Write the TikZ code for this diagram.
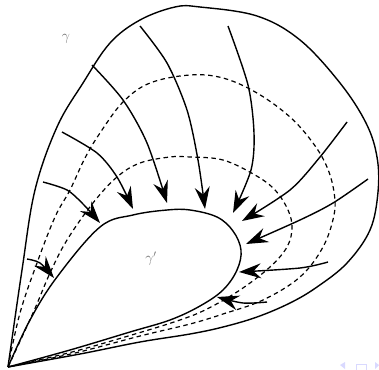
\documentclass[tikz,border=0pt]{standalone}
\usetikzlibrary{arrows.meta}
\begin{document}
\begin{tikzpicture}[x=1pt,y=-1pt,
  curve/.style={line width=1.4pt,line join=round},
  dcurve/.style={line width=1.2pt,dash pattern=on 4.5pt off 3.5pt},
  flow/.style={line width=1.4pt,-{Stealth[length=22pt,width=15pt,inset=7.5pt]}},
  lab/.style={text=black!55,font=\fontsize{14}{16}\selectfont},
  nav/.style={fill=blue!15,draw=none}]
\useasboundingbox (0,0) rectangle (379,369);
% outer curve gamma
\draw[curve] plot[smooth,tension=0.6] coordinates {(8,367) (22,270) (35,190) (57,127) (83,83) (110,43) (140,20) (175,7) (200,7) (257,16) (300,40) (340,83) (366,123) (377,157) (378,192) (370,230) (347,263) (317,287) (290,303) (257,317) (223,327) (190,334) (140,342) (80,354) (8,367)};
% inner curve gamma'
\draw[curve] plot[smooth,tension=0.6] coordinates {(8,367) (30,320) (57,277) (100,227) (133,215) (167,210) (190,210) (217,217) (233,231) (241,250) (237,270) (223,290) (200,306) (170,320) (130,332) (70,350) (8,367)};
% dashed outer
\draw[dcurve] plot[smooth,tension=0.6] coordinates {(8,367) (20,313) (37,263) (55,217) (70,190) (85,158) (100,133) (123,102) (150,83) (190,75) (223,78) (257,93) (290,117) (313,143) (327,167) (334,192) (334,215) (323,247) (300,277) (263,300) (223,314) (190,324) (140,336) (75,353) (8,367)};
% dashed inner
\draw[dcurve] plot[smooth,tension=0.6] coordinates {(8,367) (33,313) (50,273) (67,240) (93,203) (117,177) (140,163) (170,157) (190,157) (223,160) (255,175) (275,190) (288,210) (292,228) (287,247) (270,267) (240,290) (207,309) (180,320) (135,334) (72,352) (8,367)};
% arrows
\draw[flow] plot[smooth] coordinates {(27,259) (40,263) (54,278)};
\draw[flow] plot[smooth] coordinates {(43,182) (67,190) (84,205) (100,223)};
\draw[flow] plot[smooth] coordinates {(62,132) (97,153) (117,177) (133,209)};
\draw[flow] plot[smooth] coordinates {(92,65) (123,100) (147,143) (167,203)};
\draw[flow] plot[smooth] coordinates {(140,26) (167,63) (187,110) (198,160) (205,209)};
\draw[flow] plot[smooth] coordinates {(228,26) (248,85) (254,133) (251,170) (233,213)};
\draw[flow] plot[smooth] coordinates {(347,122) (320,157) (290,190) (242,221)};
\draw[flow] plot[smooth] coordinates {(368,179) (333,203) (300,220) (246,244)};
\draw[flow] plot[smooth] coordinates {(328,262) (300,268) (239,272)};
\draw[flow] plot[smooth] coordinates {(267,302) (243,303) (217,297)};
% labels
\node[lab] (g) at (66,39) {$\gamma$};
\node[lab] (gp) at (151,259) {$\gamma'$};
% navigation symbols
\fill[nav] (340,365) -- (345,362) -- (345,369) -- cycle;
\draw[blue!15,line width=1pt] (356,364) rectangle (366,372);
\fill[nav] (379,365) -- (375,362) -- (375,369) -- cycle;
\end{tikzpicture}
\end{document}
